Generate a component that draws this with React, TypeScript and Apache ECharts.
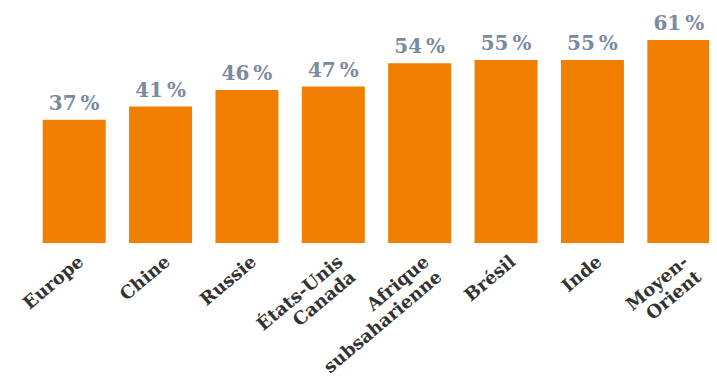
import React, { useEffect, useRef } from "react";
import * as echarts from "echarts";

const categories = ["Europe", "Chine", "Russie", "États-Unis\nCanada", "Afrique\nsubsaharienne", "Brésil", "Inde", "Moyen-\nOrient"];
const values = [37, 41, 46, 47, 54, 55, 55, 61];

export default function App() {
  const ref = useRef<HTMLDivElement>(null);
  useEffect(() => {
    const chart = echarts.init(ref.current!, null, { renderer: "svg" });
    chart.setOption({
      animation: false,
      backgroundColor: "#ffffff",
      grid: { left: 23, width: 691, top: 2, bottom: 141, containLabel: false },
      xAxis: {
        type: "category",
        data: categories,
        axisLine: { show: false },
        axisTick: { show: false },
        axisLabel: {
          rotate: 40,
          interval: 0,
          margin: 8,
          color: "#333333",
          fontFamily: "DejaVu Serif",
          fontWeight: "bold",
          fontSize: 18,
          lineHeight: 20,
          align: "right",
          verticalAlign: "top",
        },
      },
      yAxis: { type: "value", min: 0, max: 70, show: false, splitLine: { show: false } },
      series: [
        {
          type: "bar",
          data: values,
          barWidth: 63,
          itemStyle: { color: "#f07f00" },
          label: {
            show: true,
            position: "top",
            distance: 7,
            formatter: (p: any) => p.value + "\u202f%",
            color: "#7b8aa0",
            fontFamily: "DejaVu Serif",
            fontWeight: "bold",
            fontSize: 20,
          },
        },
      ],
    });
    return () => chart.dispose();
  }, []);
  return <div ref={ref} style={{ width: 717, height: 376 }} />;
}
